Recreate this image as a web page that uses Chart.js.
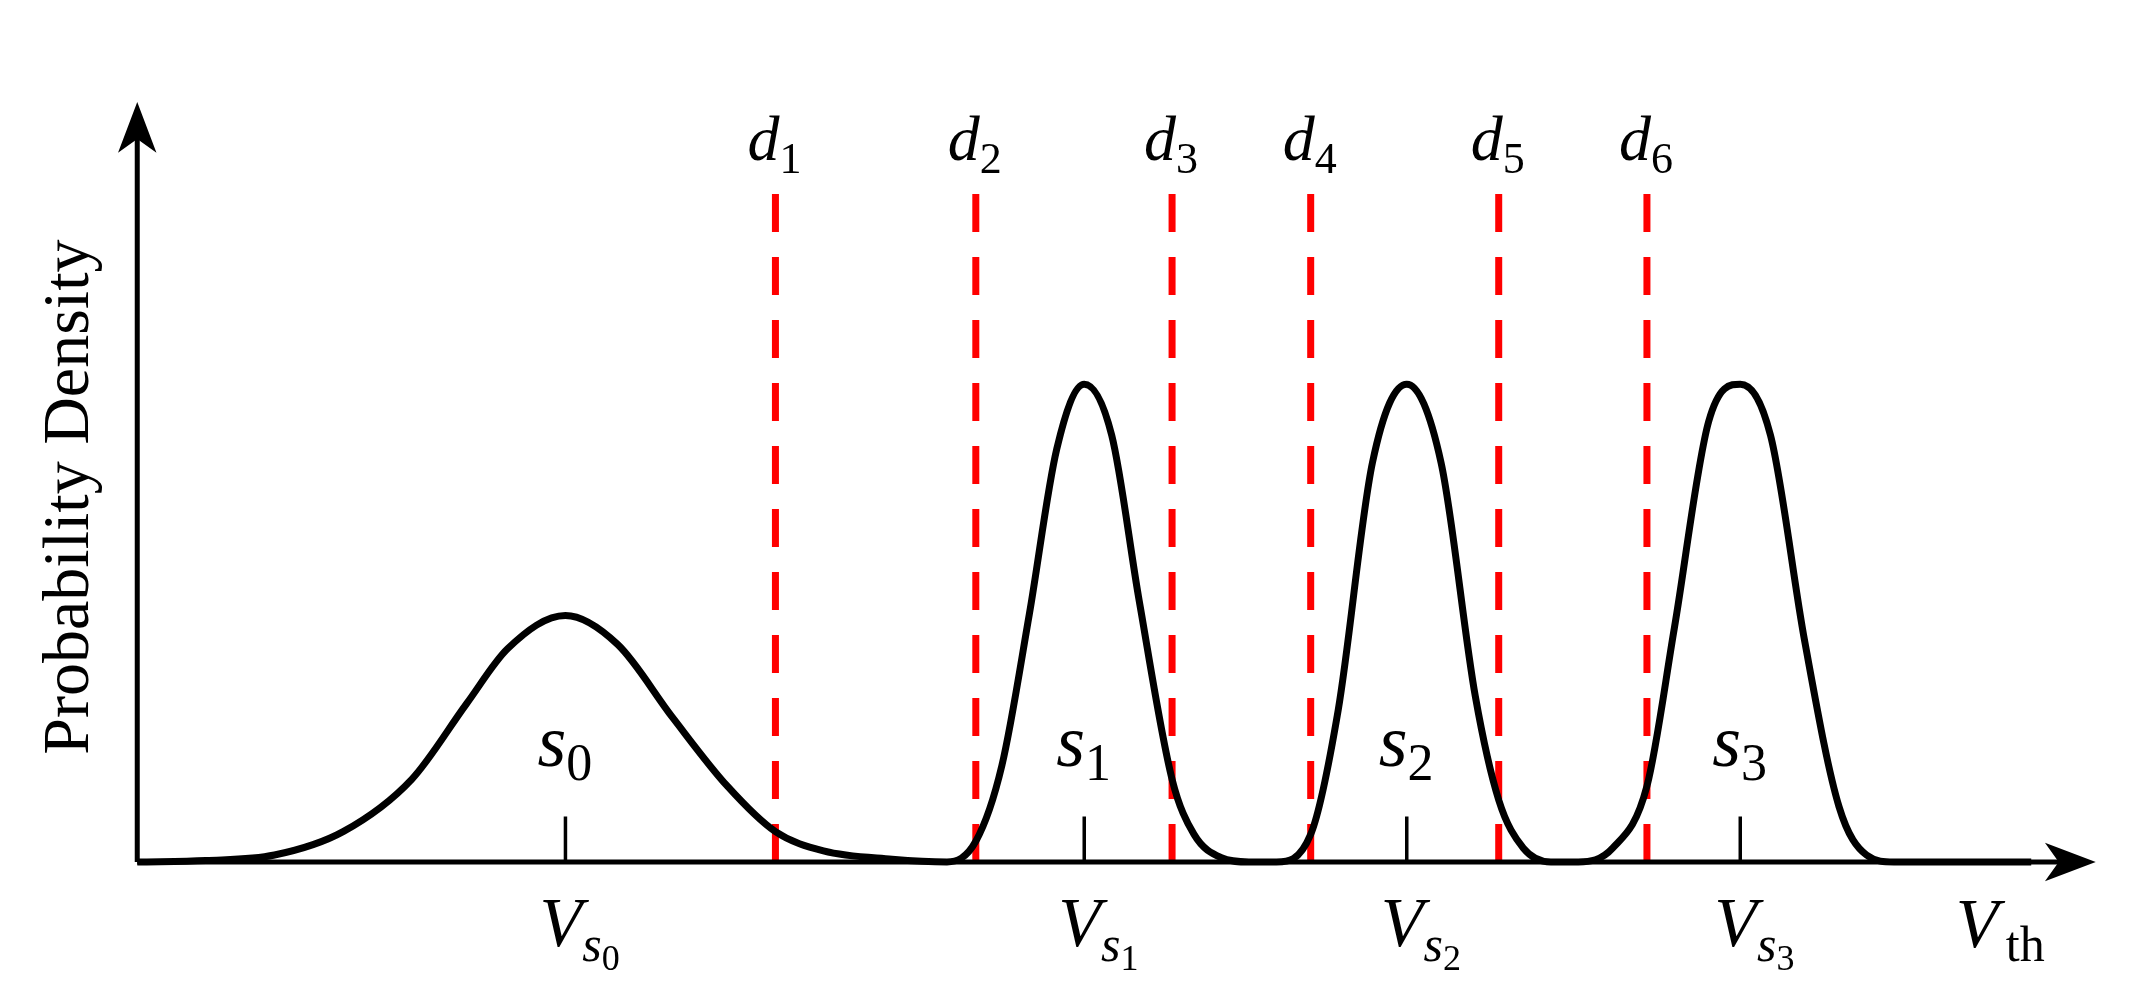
<!DOCTYPE html>
<html>
<head>
<meta charset="utf-8">
<script src="https://cdn.jsdelivr.net/npm/chart.js@4.4.0/dist/chart.umd.min.js"></script>
<style>
  html, body { margin: 0; padding: 0; background: #fff; }
  #wrap { width: 2152px; height: 1001px; }
</style>
</head>
<body>
<div id="wrap"><canvas id="chart"></canvas></div>
<script>
// threshold voltage positions (arbitrary units) and density
const curveX = [100, 150, 200, 250, 300, 340, 370, 412, 450, 490, 530, 565, 600, 650, 690,
  711, 730, 750, 770, 790, 810, 830, 854, 870, 890, 910,
  930, 955, 975, 1000, 1025, 1050, 1075, 1092, 1110, 1130,
  1150, 1175, 1200, 1220, 1245, 1268, 1290, 1315, 1340, 1360, 1380, 1480];
const curveY = [0, 1, 5, 22, 60, 115, 155, 179, 158, 105, 55, 22, 8, 2, 0,
  15, 70, 180, 300, 347, 310, 190, 60, 20, 3, 0,
  0, 20, 110, 290, 347, 290, 120, 45, 10, 0,
  0, 10, 55, 170, 320, 347, 310, 160, 40, 5, 0, 0];

const stateNames = ['0', '1', '2', '3'];
const stateX = [412, 790, 1025, 1268];
const stateLabelY = [70, 70, 70, 70];

const readNames = ['1', '2', '3', '4', '5', '6'];
const readX = [565, 711, 854, 955, 1092, 1200];
const readTop = 500;

const datasets = [{
  data: curveX.map((x, i) => ({ x: x, y: curveY[i] })),
  borderColor: '#000',
  borderWidth: 7,
  pointRadius: 0,
  cubicInterpolationMode: 'monotone',
  order: 0
}];
readX.forEach(x => datasets.push({
  data: [{ x: x, y: 0 }, { x: x, y: readTop }],
  borderColor: '#ff0000',
  borderWidth: 7,
  borderDash: [38, 25],
  pointRadius: 0,
  order: 1
}));

function sub(ctx, main, subs, x, y, size, subSize) {
  ctx.font = 'italic ' + size + 'px "Liberation Serif", "DejaVu Serif", serif';
  const w = ctx.measureText(main).width;
  ctx.fillText(main, x, y);
  if (Array.isArray(subs)) {
    ctx.font = 'italic ' + subSize + 'px "Liberation Serif", serif';
    const w2 = ctx.measureText(subs[0]).width;
    ctx.fillText(subs[0], x + w, y + size * 0.22);
    ctx.font = (subSize * 0.72) + 'px "Liberation Serif", serif';
    ctx.fillText(subs[1], x + w + w2, y + size * 0.34);
  } else {
    ctx.font = subSize + 'px "Liberation Serif", serif';
    ctx.fillText(subs, x + w, y + size * 0.2);
  }
}

const decor = {
  id: 'decor',
  afterDraw(chart) {
    const ctx = chart.ctx, xs = chart.scales.x, ys = chart.scales.y;
    const X = v => xs.getPixelForValue(v), Y = v => ys.getPixelForValue(v);
    ctx.save();
    ctx.strokeStyle = '#000'; ctx.fillStyle = '#000';
    ctx.lineWidth = 5;
    ctx.beginPath();
    ctx.moveTo(X(100), Y(0)); ctx.lineTo(X(1510), Y(0));
    ctx.moveTo(X(100), Y(0)); ctx.lineTo(X(100), Y(535));
    ctx.stroke();
    ctx.beginPath();
    ctx.moveTo(X(1527), Y(0)); ctx.lineTo(X(1490), Y(14)); ctx.lineTo(X(1500), Y(0)); ctx.lineTo(X(1490), Y(-14));
    ctx.closePath(); ctx.fill();
    ctx.beginPath();
    ctx.moveTo(X(100), Y(552)); ctx.lineTo(X(86), Y(515)); ctx.lineTo(X(100), Y(525)); ctx.lineTo(X(114), Y(515));
    ctx.closePath(); ctx.fill();
    ctx.lineWidth = 3.5;
    stateX.forEach(x => {
      ctx.beginPath(); ctx.moveTo(X(x), Y(0)); ctx.lineTo(X(x), Y(33)); ctx.stroke();
    });
    ctx.textBaseline = 'alphabetic'; ctx.textAlign = 'left';
    stateX.forEach((x, i) => {
      sub(ctx, 's', stateNames[i], X(x) - 28, Y(stateLabelY[i]), 74, 52);
      sub(ctx, 'V', ['s', stateNames[i]], X(x) - 26, Y(-61), 70, 50);
    });
    ctx.font = 'italic 70px "Liberation Serif", serif';
    ctx.fillText('V', X(1425), Y(-62));
    ctx.font = '50px "Liberation Serif", serif';
    ctx.fillText('th', X(1425) + 50, Y(-62) + 14);
    readX.forEach((x, i) => sub(ctx, 'd', readNames[i], X(x) - 28, Y(510), 64, 44));
    ctx.save();
    ctx.translate(X(64), Y(265));
    ctx.rotate(-Math.PI / 2);
    ctx.textAlign = 'center';
    ctx.font = '66px "Liberation Serif", serif';
    ctx.fillText('Probability Density', 0, 0);
    ctx.restore();
    ctx.restore();
  }
};

new Chart(document.getElementById('chart'), {
  type: 'line',
  data: { datasets: datasets },
  options: {
    responsive: true,
    maintainAspectRatio: false,
    animation: false,
    layout: { padding: 0 },
    plugins: { legend: { display: false }, tooltip: { enabled: false } },
    scales: {
      x: { type: 'linear', min: 0, max: 1568, display: false },
      y: { type: 'linear', min: -101, max: 626, display: false }
    }
  },
  plugins: [decor]
});
</script>
</body>
</html>
